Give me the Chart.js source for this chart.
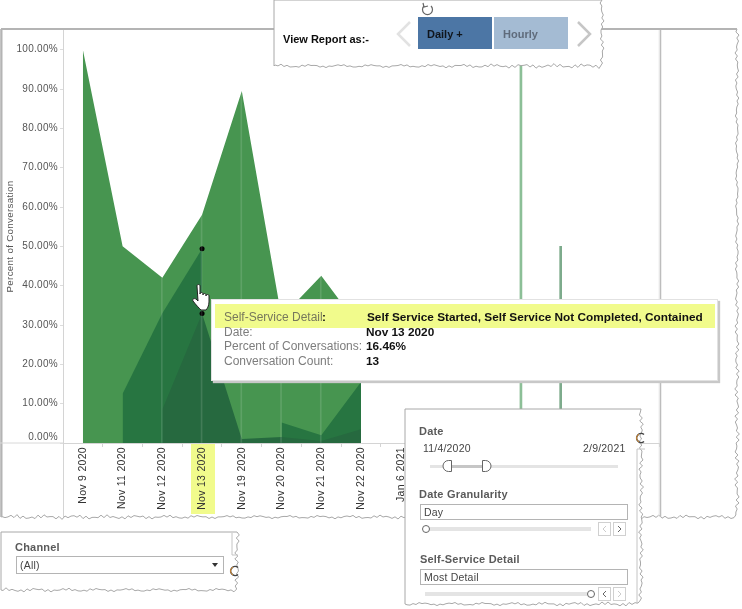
<!DOCTYPE html>
<html>
<head>
<meta charset="utf-8">
<title>Percent of Conversation</title>
<script src="https://cdn.jsdelivr.net/npm/chart.js@4/dist/chart.umd.min.js"></script>
<style>
    html, body { margin: 0; padding: 0; background: #fff; }
    body { position: relative; width: 742px; height: 609px; overflow: hidden; font-family: "Liberation Sans", Arial, sans-serif; }
    #chart { position: absolute; left: 0; top: 0; z-index: 1; }
    #back, #front, #over { position: absolute; left: 0; top: 0; }
    #back { z-index: 0; }
    #front { z-index: 2; }
    #over { z-index: 5; }
    .t { position: absolute; white-space: nowrap; z-index: 4; line-height: 14px; }
    .b { position: absolute; z-index: 3; box-sizing: border-box; }
    .head { font-size: 11px; font-weight: bold; color: #5a5a5a; letter-spacing: 0.2px; }
    .small { font-size: 10.5px; color: #444; letter-spacing: 0.2px; }
    .field { border: 1px solid #b4b4b4; background: #fff; }
    .track { background: #e4e4e4; height: 4px; }
    .step { border: 1px solid #d0d0d0; background: #fff; }
    .lab { font-size: 12px; color: #7d7d7d; }
    .val { font-size: 11.8px; font-weight: bold; color: #111; }
</style>
</head>
<body>
<svg id="back" width="742" height="609"></svg>
<canvas id="chart" width="742" height="609"></canvas>
<svg id="front" width="742" height="609"></svg>
<svg id="over" width="742" height="609"></svg>
<script>
// categories, the labels after Jan 6 2021 are hidden behind the filter panel
const dates = ['Nov 9 2020', 'Nov 11 2020', 'Nov 12 2020', 'Nov 13 2020', 'Nov 19 2020', 'Nov 20 2020',
    'Nov 21 2020', 'Nov 22 2020', 'Jan 6 2021', '', '', '', '', '', ''];

// stacked values per self-service detail
const bottomValues = [null, null, 8.5, 32.92, 1, 1.5, 0.5, 3.5, null, null, null, null, null, null, null];
const middleValues = [null, 12.5, 24.5, 16.46, null, 3.7, 1.5, 12, null, null, null, null, null, null, null];
const topValues = [100, 37.5, 9, 8.62, 88.5, 26.8, 40.5, 13.5, null, null, null, null, null, null, null];

// lone dates show up as thin spikes
const spikeValues = [null, null, null, null, null, null, null, null, null, null, null, 100, 50, null, null];
// pale seam at each inner date of the area
const seamValues = [null, null, 42, 58, 89.5, 32, 42.5, null, null, null, null, null, null, null, null];

const yTicks = [0, 10, 20, 30, 40, 50, 60, 70, 80, 90, 100];
const selectedIndex = 3;

const fontFamily = '"Liberation Sans", Arial, sans-serif';

function markerRadius(ctx) {
    return ctx.dataIndex === selectedIndex ? 2.5 : 0;
}

function areaSet(label, values, color, marker) {
    return {
        type: 'line',
        label: label,
        data: values,
        backgroundColor: color,
        borderWidth: 0,
        fill: 'origin',
        tension: 0,
        spanGaps: false,
        pointRadius: marker ? markerRadius : 0,
        pointBackgroundColor: '#000',
        pointBorderWidth: 0
    };
}

// axis text in the reference is slightly letter spaced
const spacedText = {
    id: 'spacedText',
    beforeDraw(chart) { chart.ctx.letterSpacing = '0.3px'; }
};

new Chart(document.getElementById('chart'), {
    plugins: [spacedText],
    data: {
        labels: dates,
        datasets: [
            areaSet('Self Service Started, Self Service Not Completed', bottomValues, '#26693f', true),
            areaSet('Self Service Started, Self Service Not Completed, Contained', middleValues, '#277541', true),
            areaSet('Self Service Completed', topValues, '#479550', false),
            {
                type: 'bar', label: 'seams', data: seamValues, stack: 'seams', order: -1,
                barThickness: 1, backgroundColor: 'rgba(255,255,255,0.13)'
            },
            {
                type: 'bar', label: 'spikes', data: spikeValues, stack: 'spikes', order: -1,
                barThickness: 2, backgroundColor: ctx => ctx.dataIndex === 11 ? '#8cbf97' : '#7dab8c'
            }
        ]
    },
    options: {
        responsive: false,
        animation: false,
        events: [],
        layout: { padding: { top: 30, right: 83, bottom: 0, left: 0 } },
        plugins: { legend: { display: false }, tooltip: { enabled: false } },
        scales: {
            x: {
                stacked: true,
                offset: true,
                afterFit: s => { s.height = 166; },
                border: { color: '#d4d4d4' },
                grid: { drawOnChartArea: false, tickLength: 4, color: '#d4d4d4' },
                ticks: {
                    autoSkip: false, minRotation: 90, maxRotation: 90, padding: 0,
                    color: '#333', font: { family: fontFamily, size: 10.5 }
                }
            },
            y: {
                stacked: true,
                min: 0,
                max: 105,
                afterFit: s => { s.width = 63; },
                afterBuildTicks: s => { s.ticks = yTicks.map(v => ({ value: v })); },
                border: { color: '#d4d4d4' },
                grid: { drawOnChartArea: false, tickLength: 3, color: '#dcdcdc' },
                title: {
                    display: true, text: 'Percent of Conversation', color: '#555',
                    font: { family: fontFamily, size: 9.8 }, padding: { top: 4, bottom: 0 }
                },
                ticks: {
                    padding: 2, color: '#555', font: { family: fontFamily, size: 10 },
                    // the zero label sits a little above its tick
                    callback: v => v === 0 ? ['0.00%', ''] : v.toFixed(2) + '%'
                }
            }
        }
    }
});

// ---- dashboard furniture around the chart ----
const NS = 'http://www.w3.org/2000/svg';
const back = document.getElementById('back');
const front = document.getElementById('front');
const over = document.getElementById('over');

function svgEl(parent, name, attrs) {
    const el = document.createElementNS(NS, name);
    for (const k in attrs) el.setAttribute(k, attrs[k]);
    parent.appendChild(el);
    return el;
}

function wiggle(n, seed) {
    return 1.2 * Math.sin(n * 0.9 + seed) + 0.9 * Math.sin(n * 2.3 + seed * 2) + 0.5 * Math.sin(n * 5.1);
}

// panel with straight top and left edges, torn right and bottom edges
function torn(parent, x, y, w, h, seed) {
    const pts = [[x, y], [x + w, y]];
    for (let py = y + 3; py < y + h; py += 3) pts.push([x + w + wiggle(py, seed), py]);
    for (let px = x + w - 3; px > x; px -= 3) pts.push([px, y + h + wiggle(px, seed + 1)]);
    pts.push([x, y + h]);
    svgEl(parent, 'polygon', {
        points: pts.map(p => p[0].toFixed(1) + ',' + p[1].toFixed(1)).join(' '),
        fill: '#fff', stroke: '#a8a8a8', 'stroke-width': 1
    });
}

function line(parent, x1, y1, x2, y2, color, width) {
    svgEl(parent, 'line', { x1: x1, y1: y1, x2: x2, y2: y2, stroke: color, 'stroke-width': width || 1 });
}

function spinner(parent, x, y) {
    svgEl(parent, 'path', {
        d: `M${x + 3} ${y - 3.5}A4.5 4.5 0 1 0 ${x + 3} ${y + 3.5}`,
        fill: 'none', stroke: '#444', 'stroke-width': 1.6
    });
    svgEl(parent, 'path', { d: `M${x - 2} ${y - 4}A4.5 4.5 0 0 0 ${x - 2} ${y + 4}`, fill: 'none', stroke: '#d88a2c', 'stroke-width': 1 });
}

function addText(text, x, y, cls, extra) {
    const d = document.createElement('div');
    d.className = 't ' + (cls || '');
    d.textContent = text;
    d.style.left = x + 'px';
    d.style.top = (y - 7) + 'px';
    if (extra) Object.assign(d.style, extra);
    document.body.appendChild(d);
    return d;
}

function addBox(x, y, w, h, cls, extra) {
    const d = document.createElement('div');
    d.className = 'b ' + (cls || '');
    Object.assign(d.style, { left: x + 'px', top: y + 'px', width: w + 'px', height: h + 'px' }, extra || {});
    document.body.appendChild(d);
    return d;
}

// outer frame
torn(back, 1, 29, 736, 488, 1);
line(back, 1, 29, 737, 29, '#b4b4b4', 2);
line(back, 1.5, 29, 1.5, 517, '#b4b4b4', 2);
line(back, 0, 443, 63, 443, '#d8d8d8');
line(back, 63.5, 30, 63.5, 517, '#d4d4d4');
line(back, 659, 30, 659, 517, '#eeeeee');
line(back, 660.5, 30, 660.5, 517, '#bdbdbd', 1.5);
svgEl(back, 'rect', { x: 191, y: 444, width: 24, height: 70, fill: '#f1fb8c' });

// view report panel
torn(front, 274, 0, 328, 66, 2);
svgEl(over, 'path', { d: 'M431 6A5 5 0 1 1 424 6', fill: 'none', stroke: '#666', 'stroke-width': 1.2 });
svgEl(over, 'path', { d: 'M423 3L424 7L428 6', fill: 'none', stroke: '#666', 'stroke-width': 1.2 });
svgEl(over, 'path', { d: 'M410 22L398 34L410 46', fill: 'none', stroke: '#e2e2e2', 'stroke-width': 2.5 });
svgEl(over, 'path', { d: 'M578 22L590 34L578 46', fill: 'none', stroke: '#c6c6c6', 'stroke-width': 2.5 });
addText('View Report as:-', 283, 39, '', { fontSize: '11px', fontWeight: 'bold', color: '#0c0c0c' });
addBox(418, 17, 74, 32, '', { background: '#4c76a5' });
addBox(494, 17, 74, 32, '', { background: '#a4bbd3' });
addText('Daily +', 427, 34, '', { fontSize: '11px', fontWeight: 'bold', color: '#10151c' });
addText('Hourly', 503, 34, '', { fontSize: '11px', fontWeight: 'bold', color: '#5f6b7b' });

// filter panel
torn(front, 405, 409, 236, 195, 3);
line(front, 637, 449, 637, 604, '#c4c4c4');
line(front, 637, 449, 645, 449, '#c4c4c4');
spinner(over, 641, 438);
addText('Date', 419, 431, 'head');
addText('11/4/2020', 423, 448, 'small');
addText('2/9/2021', 583, 448, 'small');
addBox(430, 465, 188, 3, 'track');
addBox(452, 465, 32, 3, '', { background: '#c6c6c6' });
svgEl(over, 'path', { d: 'M451.5 460.5h-3a5.5 5.5 0 0 0 0 11h3z', fill: '#fff', stroke: '#666' });
svgEl(over, 'path', { d: 'M482.5 460.5h3a5.5 5.5 0 0 1 0 11h-3z', fill: '#fff', stroke: '#666' });
addText('Date Granularity', 419, 494, 'head');
addBox(420, 504, 208, 16, 'field');
addText('Day', 424, 512, 'small');
addBox(425, 527, 166, 4, 'track');
svgEl(over, 'circle', { cx: 426, cy: 529, r: 3.5, fill: '#fff', stroke: '#666' });
addBox(598, 522, 13, 14, 'step');
addBox(613, 522, 13, 14, 'step');
svgEl(over, 'path', { d: 'M606 526L603 529L606 532', fill: 'none', stroke: '#ccc' });
svgEl(over, 'path', { d: 'M618 526L621 529L618 532', fill: 'none', stroke: '#666' });
addText('Self-Service Detail', 420, 559, 'head');
addBox(420, 569, 208, 16, 'field');
addText('Most Detail', 424, 577, 'small');
addBox(425, 592, 166, 4, 'track');
svgEl(over, 'circle', { cx: 591, cy: 594, r: 3.5, fill: '#fff', stroke: '#666' });
addBox(598, 587, 13, 14, 'step');
addBox(613, 587, 13, 14, 'step');
svgEl(over, 'path', { d: 'M606 591L603 594L606 597', fill: 'none', stroke: '#666' });
svgEl(over, 'path', { d: 'M618 591L621 594L618 597', fill: 'none', stroke: '#ccc' });

// channel panel
torn(front, 1, 532, 236, 58, 4);
line(front, 232, 533, 232, 555, '#c4c4c4');
line(front, 232, 555, 238, 555, '#c4c4c4');
spinner(over, 235, 571);
addText('Channel', 15, 547, 'head');
addBox(16, 556, 208, 18, 'field');
addText('(All)', 20, 565, 'small');
svgEl(over, 'path', { d: 'M212 563h6l-3 4z', fill: '#333' });

// tooltip
addBox(211, 299, 507, 82, '', { background: '#fff', border: '1px solid #e2e2e2', boxShadow: '2px 2px 1px #c8c8c8' });
addBox(215, 304, 500, 24, '', { background: '#f1fb8c' });
addText('Self-Service Detail', 224, 317, 'lab', { color: '#77785c' });
addText(':', 322, 317, 'val');
addText('Self Service Started, Self Service Not Completed, Contained', 367, 317, 'val');
addText('Date:', 224, 332, 'lab');
addText('Nov 13 2020', 366, 332, 'val');
addText('Percent of Conversations:', 224, 346, 'lab');
addText('16.46%', 366, 346, 'val');
addText('Conversation Count:', 224, 361, 'lab');
addText('13', 366, 361, 'val');

// hand cursor
svgEl(over, 'path', {
    d: 'M197 286c0-2 3-2 3 0v8c0-2 3-2 3 0v1c0-2 3-2 3 0v1c0-2 3-2 3 0v6c0 4-2 7-3 8h-5c-2-2-5-5-8-9c-1-2 1-3 3-2l2 2z',
    fill: '#fff', stroke: '#222', 'stroke-width': 1
});
</script>
</body>
</html>
